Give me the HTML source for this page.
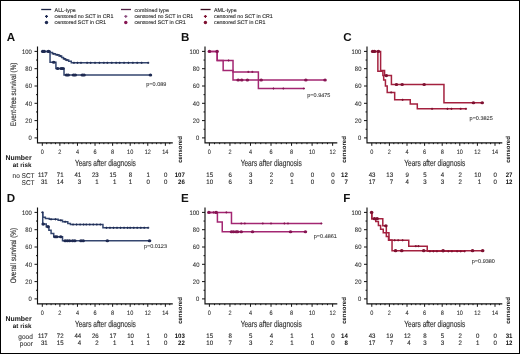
<!DOCTYPE html>
<html><head><meta charset="utf-8"><title>Survival curves</title>
<style>
html,body{margin:0;padding:0;background:#fff;}
body{width:520px;height:354px;overflow:hidden;position:relative;}
.frame{position:absolute;left:0;top:0;width:520px;height:354px;box-sizing:border-box;border:1px solid #000;}
svg{display:block;filter:blur(0.3px);font-family:"Liberation Sans", sans-serif;text-rendering:geometricPrecision;}
</style></head>
<body>
<svg width="520" height="354" viewBox="0 0 520 354">
<rect x="0" y="0" width="520" height="354" fill="#fff"/>
<path d="M41.2 9.5H51.2" stroke="#1f2747" stroke-width="1.3"/>
<path d="M45 16.4h3M46.5 14.9v3" stroke="#1e2a52" stroke-width="1.1"/>
<circle cx="46.5" cy="22.5" r="1.7" fill="#1e2a52"/>
<text x="54.6" y="11.5" font-size="5.3" text-anchor="start" font-weight="normal" fill="#2a2a2a" stroke="#2a2a2a" stroke-width="0.12" >ALL-type</text>
<text x="54.6" y="17.9" font-size="5.3" text-anchor="start" font-weight="normal" fill="#2a2a2a" stroke="#2a2a2a" stroke-width="0.12" >censored no SCT in CR1</text>
<text x="54.6" y="24.1" font-size="5.3" text-anchor="start" font-weight="normal" fill="#2a2a2a" stroke="#2a2a2a" stroke-width="0.12" >censored SCT in CR1</text>
<path d="M121 9.5H131" stroke="#552448" stroke-width="1.3"/>
<path d="M124.3 16.4h3M125.8 14.9v3" stroke="#8a4a7c" stroke-width="1.1"/>
<circle cx="125.8" cy="22.5" r="1.7" fill="#861452"/>
<text x="134.4" y="11.5" font-size="5.3" text-anchor="start" font-weight="normal" fill="#2a2a2a" stroke="#2a2a2a" stroke-width="0.12" >combined type</text>
<text x="134.4" y="17.9" font-size="5.3" text-anchor="start" font-weight="normal" fill="#2a2a2a" stroke="#2a2a2a" stroke-width="0.12" >censored no SCT in CR1</text>
<text x="134.4" y="24.1" font-size="5.3" text-anchor="start" font-weight="normal" fill="#2a2a2a" stroke="#2a2a2a" stroke-width="0.12" >censored SCT in CR1</text>
<path d="M200.6 9.5H210.6" stroke="#3c0e20" stroke-width="1.3"/>
<path d="M203.9 16.4h3M205.4 14.9v3" stroke="#7e1030" stroke-width="1.1"/>
<circle cx="205.4" cy="22.5" r="1.7" fill="#7e1030"/>
<text x="214" y="11.5" font-size="5.3" text-anchor="start" font-weight="normal" fill="#2a2a2a" stroke="#2a2a2a" stroke-width="0.12" >AML-type</text>
<text x="214" y="17.9" font-size="5.3" text-anchor="start" font-weight="normal" fill="#2a2a2a" stroke="#2a2a2a" stroke-width="0.12" >censored no SCT in CR1</text>
<text x="214" y="24.1" font-size="5.3" text-anchor="start" font-weight="normal" fill="#2a2a2a" stroke="#2a2a2a" stroke-width="0.12" >censored SCT in CR1</text>
<text x="6.8" y="40.7" font-size="11.6" text-anchor="start" font-weight="bold" fill="#111" >A</text>
<path d="M37.5 46.5 V142.8 H172.8" fill="none" stroke="#111" stroke-width="1.15"/>
<path d="M34.5 137.9H37.5M36 129.25H37.5M34.5 120.6H37.5M36 111.95H37.5M34.5 103.3H37.5M36 94.65H37.5M34.5 86H37.5M36 77.35H37.5M34.5 68.7H37.5M36 60.05H37.5M34.5 51.4H37.5M42.3 142.8V145.8M46.69 142.8V144.2M51.09 142.8V144.2M55.48 142.8V144.2M59.88 142.8V145.8M64.27 142.8V144.2M68.67 142.8V144.2M73.06 142.8V144.2M77.46 142.8V145.8M81.85 142.8V144.2M86.25 142.8V144.2M90.64 142.8V144.2M95.04 142.8V145.8M99.43 142.8V144.2M103.83 142.8V144.2M108.22 142.8V144.2M112.62 142.8V145.8M117.01 142.8V144.2M121.41 142.8V144.2M125.8 142.8V144.2M130.2 142.8V145.8M134.59 142.8V144.2M138.99 142.8V144.2M143.38 142.8V144.2M147.78 142.8V145.8M152.17 142.8V144.2M156.57 142.8V144.2M160.96 142.8V144.2M165.36 142.8V145.8M169.75 142.8V144.2" stroke="#111" stroke-width="1"/>
<text transform="translate(31.9 140.2) scale(0.92 1)" font-size="6.4" text-anchor="end" font-weight="normal" fill="#333" stroke="#333" stroke-width="0.1" >0</text>
<text transform="translate(31.9 122.9) scale(0.92 1)" font-size="6.4" text-anchor="end" font-weight="normal" fill="#333" stroke="#333" stroke-width="0.1" >20</text>
<text transform="translate(31.9 105.6) scale(0.92 1)" font-size="6.4" text-anchor="end" font-weight="normal" fill="#333" stroke="#333" stroke-width="0.1" >40</text>
<text transform="translate(31.9 88.3) scale(0.92 1)" font-size="6.4" text-anchor="end" font-weight="normal" fill="#333" stroke="#333" stroke-width="0.1" >60</text>
<text transform="translate(31.9 71) scale(0.92 1)" font-size="6.4" text-anchor="end" font-weight="normal" fill="#333" stroke="#333" stroke-width="0.1" >80</text>
<text transform="translate(31.9 53.7) scale(0.92 1)" font-size="6.4" text-anchor="end" font-weight="normal" fill="#333" stroke="#333" stroke-width="0.1" >100</text>
<text transform="translate(42.3 154.1) scale(0.88 1)" font-size="6.3" text-anchor="middle" font-weight="normal" fill="#333" stroke="#333" stroke-width="0.1" >0</text>
<text transform="translate(59.88 154.1) scale(0.88 1)" font-size="6.3" text-anchor="middle" font-weight="normal" fill="#333" stroke="#333" stroke-width="0.1" >2</text>
<text transform="translate(77.46 154.1) scale(0.88 1)" font-size="6.3" text-anchor="middle" font-weight="normal" fill="#333" stroke="#333" stroke-width="0.1" >4</text>
<text transform="translate(95.04 154.1) scale(0.88 1)" font-size="6.3" text-anchor="middle" font-weight="normal" fill="#333" stroke="#333" stroke-width="0.1" >6</text>
<text transform="translate(112.62 154.1) scale(0.88 1)" font-size="6.3" text-anchor="middle" font-weight="normal" fill="#333" stroke="#333" stroke-width="0.1" >8</text>
<text transform="translate(130.2 154.1) scale(0.88 1)" font-size="6.3" text-anchor="middle" font-weight="normal" fill="#333" stroke="#333" stroke-width="0.1" >10</text>
<text transform="translate(147.78 154.1) scale(0.88 1)" font-size="6.3" text-anchor="middle" font-weight="normal" fill="#333" stroke="#333" stroke-width="0.1" >12</text>
<text transform="translate(165.36 154.1) scale(0.88 1)" font-size="6.3" text-anchor="middle" font-weight="normal" fill="#333" stroke="#333" stroke-width="0.1" >14</text>
<text x="105.4" y="166.2" font-size="8.9" text-anchor="middle" font-weight="normal" fill="#333" stroke="#333" stroke-width="0.15" textLength="61" lengthAdjust="spacingAndGlyphs">Years after diagnosis</text>
<text transform="translate(182.1 149.5) rotate(-90)" font-size="6" font-weight="bold" fill="#111" text-anchor="middle">censored</text>
<path d="M42.3 51.4H50.21 V52.61H52.41 V53.74H55.48 V54.86H59 V55.98H61.64 V57.45H63.4 V58.84H65.59 V60.05H68.67 V61.35H71.31 V62.82H148.66" fill="none" stroke="#34466f" stroke-width="1.5"/>
<path d="M42.3 51.4H50.04 V62.21H55.92 V68.53H64.01 V74.93H150.42" fill="none" stroke="#34466f" stroke-width="1.5"/>
<path d="M47.79 51.4h2.2M48.89 50.3v2.2" stroke="#1e2a52" stroke-width="0.9"/>
<path d="M52.63 53.74h2.2M53.73 52.64v2.2" stroke="#1e2a52" stroke-width="0.9"/>
<path d="M56.14 54.86h2.2M57.24 53.76v2.2" stroke="#1e2a52" stroke-width="0.9"/>
<path d="M59.22 55.98h2.2M60.32 54.88v2.2" stroke="#1e2a52" stroke-width="0.9"/>
<path d="M63.17 58.84h2.2M64.27 57.74v2.2" stroke="#1e2a52" stroke-width="0.9"/>
<path d="M65.81 60.05h2.2M66.91 58.95v2.2" stroke="#1e2a52" stroke-width="0.9"/>
<path d="M72.84 62.82h2.2M73.94 61.72v2.2" stroke="#1e2a52" stroke-width="0.9"/>
<path d="M76.36 62.82h2.2M77.46 61.72v2.2" stroke="#1e2a52" stroke-width="0.9"/>
<path d="M79.88 62.82h2.2M80.98 61.72v2.2" stroke="#1e2a52" stroke-width="0.9"/>
<path d="M86.03 62.82h2.2M87.13 61.72v2.2" stroke="#1e2a52" stroke-width="0.9"/>
<path d="M89.55 62.82h2.2M90.64 61.72v2.2" stroke="#1e2a52" stroke-width="0.9"/>
<path d="M93.94 62.82h2.2M95.04 61.72v2.2" stroke="#1e2a52" stroke-width="0.9"/>
<path d="M98.33 62.82h2.2M99.43 61.72v2.2" stroke="#1e2a52" stroke-width="0.9"/>
<path d="M102.73 62.82h2.2M103.83 61.72v2.2" stroke="#1e2a52" stroke-width="0.9"/>
<path d="M106.25 62.82h2.2M107.35 61.72v2.2" stroke="#1e2a52" stroke-width="0.9"/>
<path d="M110.64 62.82h2.2M111.74 61.72v2.2" stroke="#1e2a52" stroke-width="0.9"/>
<path d="M115.04 62.82h2.2M116.14 61.72v2.2" stroke="#1e2a52" stroke-width="0.9"/>
<path d="M118.55 62.82h2.2M119.65 61.72v2.2" stroke="#1e2a52" stroke-width="0.9"/>
<path d="M122.95 62.82h2.2M124.05 61.72v2.2" stroke="#1e2a52" stroke-width="0.9"/>
<path d="M127.34 62.82h2.2M128.44 61.72v2.2" stroke="#1e2a52" stroke-width="0.9"/>
<path d="M131.74 62.82h2.2M132.84 61.72v2.2" stroke="#1e2a52" stroke-width="0.9"/>
<path d="M136.13 62.82h2.2M137.23 61.72v2.2" stroke="#1e2a52" stroke-width="0.9"/>
<path d="M140.53 62.82h2.2M141.63 61.72v2.2" stroke="#1e2a52" stroke-width="0.9"/>
<path d="M147.12 62.82h2.2M148.22 61.72v2.2" stroke="#1e2a52" stroke-width="0.9"/>
<ellipse cx="42.74" cy="51.4" rx="1.8" ry="1.55" fill="#1e2a52"/>
<ellipse cx="44.06" cy="51.4" rx="1.8" ry="1.55" fill="#1e2a52"/>
<ellipse cx="48.45" cy="51.4" rx="1.8" ry="1.55" fill="#1e2a52"/>
<ellipse cx="53.73" cy="62.21" rx="1.8" ry="1.55" fill="#1e2a52"/>
<ellipse cx="57.68" cy="68.53" rx="1.8" ry="1.55" fill="#1e2a52"/>
<ellipse cx="61.2" cy="68.53" rx="1.8" ry="1.55" fill="#1e2a52"/>
<ellipse cx="62.96" cy="68.53" rx="1.8" ry="1.55" fill="#1e2a52"/>
<ellipse cx="66.47" cy="74.93" rx="1.8" ry="1.55" fill="#1e2a52"/>
<ellipse cx="68.23" cy="74.93" rx="1.8" ry="1.55" fill="#1e2a52"/>
<ellipse cx="73.5" cy="74.93" rx="1.8" ry="1.55" fill="#1e2a52"/>
<ellipse cx="75.26" cy="74.93" rx="1.8" ry="1.55" fill="#1e2a52"/>
<ellipse cx="82.29" cy="74.93" rx="1.8" ry="1.55" fill="#1e2a52"/>
<ellipse cx="84.05" cy="74.93" rx="1.8" ry="1.55" fill="#1e2a52"/>
<ellipse cx="150.42" cy="74.93" rx="1.8" ry="1.55" fill="#1e2a52"/>
<text x="146.3" y="85.8" font-size="5.5" text-anchor="start" font-weight="normal" fill="#333" stroke="#333" stroke-width="0.08" >p=0.089</text>
<text transform="translate(47.67 177.2) scale(0.95 1)" font-size="6.4" text-anchor="end" font-weight="normal" fill="#2a2a2a" stroke="#2a2a2a" stroke-width="0.12" >117</text>
<text transform="translate(47.67 184.4) scale(0.95 1)" font-size="6.4" text-anchor="end" font-weight="normal" fill="#2a2a2a" stroke="#2a2a2a" stroke-width="0.12" >31</text>
<text transform="translate(63.56 177.2) scale(0.95 1)" font-size="6.4" text-anchor="end" font-weight="normal" fill="#2a2a2a" stroke="#2a2a2a" stroke-width="0.12" >71</text>
<text transform="translate(63.56 184.4) scale(0.95 1)" font-size="6.4" text-anchor="end" font-weight="normal" fill="#2a2a2a" stroke="#2a2a2a" stroke-width="0.12" >14</text>
<text transform="translate(81.14 177.2) scale(0.95 1)" font-size="6.4" text-anchor="end" font-weight="normal" fill="#2a2a2a" stroke="#2a2a2a" stroke-width="0.12" >41</text>
<text transform="translate(81.14 184.4) scale(0.95 1)" font-size="6.4" text-anchor="end" font-weight="normal" fill="#2a2a2a" stroke="#2a2a2a" stroke-width="0.12" >3</text>
<text transform="translate(98.72 177.2) scale(0.95 1)" font-size="6.4" text-anchor="end" font-weight="normal" fill="#2a2a2a" stroke="#2a2a2a" stroke-width="0.12" >23</text>
<text transform="translate(98.72 184.4) scale(0.95 1)" font-size="6.4" text-anchor="end" font-weight="normal" fill="#2a2a2a" stroke="#2a2a2a" stroke-width="0.12" >1</text>
<text transform="translate(116.3 177.2) scale(0.95 1)" font-size="6.4" text-anchor="end" font-weight="normal" fill="#2a2a2a" stroke="#2a2a2a" stroke-width="0.12" >15</text>
<text transform="translate(116.3 184.4) scale(0.95 1)" font-size="6.4" text-anchor="end" font-weight="normal" fill="#2a2a2a" stroke="#2a2a2a" stroke-width="0.12" >1</text>
<text transform="translate(132.19 177.2) scale(0.95 1)" font-size="6.4" text-anchor="end" font-weight="normal" fill="#2a2a2a" stroke="#2a2a2a" stroke-width="0.12" >8</text>
<text transform="translate(132.19 184.4) scale(0.95 1)" font-size="6.4" text-anchor="end" font-weight="normal" fill="#2a2a2a" stroke="#2a2a2a" stroke-width="0.12" >1</text>
<text transform="translate(149.77 177.2) scale(0.95 1)" font-size="6.4" text-anchor="end" font-weight="normal" fill="#2a2a2a" stroke="#2a2a2a" stroke-width="0.12" >1</text>
<text transform="translate(149.77 184.4) scale(0.95 1)" font-size="6.4" text-anchor="end" font-weight="normal" fill="#2a2a2a" stroke="#2a2a2a" stroke-width="0.12" >0</text>
<text transform="translate(167.35 177.2) scale(0.95 1)" font-size="6.4" text-anchor="end" font-weight="normal" fill="#2a2a2a" stroke="#2a2a2a" stroke-width="0.12" >0</text>
<text transform="translate(167.35 184.4) scale(0.95 1)" font-size="6.4" text-anchor="end" font-weight="normal" fill="#2a2a2a" stroke="#2a2a2a" stroke-width="0.12" >0</text>
<text transform="translate(184.8 177.2) scale(0.95 1)" font-size="6.4" text-anchor="end" font-weight="bold" fill="#111" >107</text>
<text transform="translate(184.8 184.4) scale(0.95 1)" font-size="6.4" text-anchor="end" font-weight="bold" fill="#111" >26</text>
<text x="31.6" y="159.8" font-size="6.9" text-anchor="end" font-weight="bold" fill="#111" >Number</text>
<text x="31.4" y="167.1" font-size="6.3" text-anchor="end" font-weight="bold" fill="#111" >at risk</text>
<text transform="translate(34.6 177.5) scale(0.93 1)" font-size="7" text-anchor="end" font-weight="normal" fill="#333" stroke="#333" stroke-width="0.1" >no SCT</text>
<text transform="translate(34.6 184.6) scale(0.93 1)" font-size="7" text-anchor="end" font-weight="normal" fill="#333" stroke="#333" stroke-width="0.1" >SCT</text>
<text x="181" y="40.7" font-size="11.6" text-anchor="start" font-weight="bold" fill="#111" >B</text>
<path d="M205 46.5 V142.8 H337.3" fill="none" stroke="#111" stroke-width="1.15"/>
<path d="M202 137.9H205M203.5 129.25H205M202 120.6H205M203.5 111.95H205M202 103.3H205M203.5 94.65H205M202 86H205M203.5 77.35H205M202 68.7H205M203.5 60.05H205M202 51.4H205M209.4 142.8V145.8M214.53 142.8V144.2M219.67 142.8V144.2M224.81 142.8V144.2M229.94 142.8V145.8M235.07 142.8V144.2M240.21 142.8V144.2M245.34 142.8V144.2M250.48 142.8V145.8M255.62 142.8V144.2M260.75 142.8V144.2M265.88 142.8V144.2M271.02 142.8V145.8M276.15 142.8V144.2M281.29 142.8V144.2M286.43 142.8V144.2M291.56 142.8V145.8M296.69 142.8V144.2M301.83 142.8V144.2M306.97 142.8V144.2M312.1 142.8V145.8M317.24 142.8V144.2M322.37 142.8V144.2M327.5 142.8V144.2M332.64 142.8V145.8" stroke="#111" stroke-width="1"/>
<text transform="translate(199.4 140.2) scale(0.92 1)" font-size="6.4" text-anchor="end" font-weight="normal" fill="#333" stroke="#333" stroke-width="0.1" >0</text>
<text transform="translate(199.4 122.9) scale(0.92 1)" font-size="6.4" text-anchor="end" font-weight="normal" fill="#333" stroke="#333" stroke-width="0.1" >20</text>
<text transform="translate(199.4 105.6) scale(0.92 1)" font-size="6.4" text-anchor="end" font-weight="normal" fill="#333" stroke="#333" stroke-width="0.1" >40</text>
<text transform="translate(199.4 88.3) scale(0.92 1)" font-size="6.4" text-anchor="end" font-weight="normal" fill="#333" stroke="#333" stroke-width="0.1" >60</text>
<text transform="translate(199.4 71) scale(0.92 1)" font-size="6.4" text-anchor="end" font-weight="normal" fill="#333" stroke="#333" stroke-width="0.1" >80</text>
<text transform="translate(199.4 53.7) scale(0.92 1)" font-size="6.4" text-anchor="end" font-weight="normal" fill="#333" stroke="#333" stroke-width="0.1" >100</text>
<text transform="translate(209.4 154.1) scale(0.88 1)" font-size="6.3" text-anchor="middle" font-weight="normal" fill="#333" stroke="#333" stroke-width="0.1" >0</text>
<text transform="translate(229.94 154.1) scale(0.88 1)" font-size="6.3" text-anchor="middle" font-weight="normal" fill="#333" stroke="#333" stroke-width="0.1" >2</text>
<text transform="translate(250.48 154.1) scale(0.88 1)" font-size="6.3" text-anchor="middle" font-weight="normal" fill="#333" stroke="#333" stroke-width="0.1" >4</text>
<text transform="translate(271.02 154.1) scale(0.88 1)" font-size="6.3" text-anchor="middle" font-weight="normal" fill="#333" stroke="#333" stroke-width="0.1" >6</text>
<text transform="translate(291.56 154.1) scale(0.88 1)" font-size="6.3" text-anchor="middle" font-weight="normal" fill="#333" stroke="#333" stroke-width="0.1" >8</text>
<text transform="translate(312.1 154.1) scale(0.88 1)" font-size="6.3" text-anchor="middle" font-weight="normal" fill="#333" stroke="#333" stroke-width="0.1" >10</text>
<text transform="translate(332.64 154.1) scale(0.88 1)" font-size="6.3" text-anchor="middle" font-weight="normal" fill="#333" stroke="#333" stroke-width="0.1" >12</text>
<text x="271.2" y="166.2" font-size="8.9" text-anchor="middle" font-weight="normal" fill="#333" stroke="#333" stroke-width="0.15" textLength="61" lengthAdjust="spacingAndGlyphs">Years after diagnosis</text>
<text transform="translate(345.6 149.5) rotate(-90)" font-size="6" font-weight="bold" fill="#111" text-anchor="middle">censored</text>
<path d="M209.4 51.4H217.21 V60.48H223.16 V70.43H233.02 V71.9H258.39 V88.51H303.88" fill="none" stroke="#a32672" stroke-width="1.5"/>
<path d="M209.4 51.4H217.21 V60.48H233.02 V80.03H325.04" fill="none" stroke="#a32672" stroke-width="1.5"/>
<path d="M247.22 71.9h2.2M248.32 70.8v2.2" stroke="#861452" stroke-width="0.9"/>
<path d="M251.23 71.9h2.2M252.33 70.8v2.2" stroke="#861452" stroke-width="0.9"/>
<path d="M272.38 88.51h2.2M273.48 87.41v2.2" stroke="#861452" stroke-width="0.9"/>
<path d="M282.24 88.51h2.2M283.34 87.41v2.2" stroke="#861452" stroke-width="0.9"/>
<path d="M302.78 88.51h2.2M303.88 87.41v2.2" stroke="#861452" stroke-width="0.9"/>
<path d="M227.5 60.48h2.2M228.6 59.38v2.2" stroke="#861452" stroke-width="0.9"/>
<ellipse cx="209.4" cy="51.4" rx="1.8" ry="1.55" fill="#861452"/>
<ellipse cx="217.1" cy="51.4" rx="1.8" ry="1.55" fill="#861452"/>
<ellipse cx="238.16" cy="80.03" rx="1.8" ry="1.55" fill="#861452"/>
<ellipse cx="241.75" cy="80.03" rx="1.8" ry="1.55" fill="#861452"/>
<ellipse cx="247.4" cy="80.03" rx="1.8" ry="1.55" fill="#861452"/>
<ellipse cx="261.16" cy="80.03" rx="1.8" ry="1.55" fill="#861452"/>
<ellipse cx="305.84" cy="80.03" rx="1.8" ry="1.55" fill="#861452"/>
<ellipse cx="325.04" cy="80.03" rx="1.8" ry="1.55" fill="#861452"/>
<text x="307.3" y="97" font-size="5.5" text-anchor="start" font-weight="normal" fill="#333" stroke="#333" stroke-width="0.08" >p=0.9475</text>
<text transform="translate(213.08 177.2) scale(0.95 1)" font-size="6.4" text-anchor="end" font-weight="normal" fill="#2a2a2a" stroke="#2a2a2a" stroke-width="0.12" >15</text>
<text transform="translate(213.08 184.4) scale(0.95 1)" font-size="6.4" text-anchor="end" font-weight="normal" fill="#2a2a2a" stroke="#2a2a2a" stroke-width="0.12" >10</text>
<text transform="translate(231.93 177.2) scale(0.95 1)" font-size="6.4" text-anchor="end" font-weight="normal" fill="#2a2a2a" stroke="#2a2a2a" stroke-width="0.12" >6</text>
<text transform="translate(231.93 184.4) scale(0.95 1)" font-size="6.4" text-anchor="end" font-weight="normal" fill="#2a2a2a" stroke="#2a2a2a" stroke-width="0.12" >6</text>
<text transform="translate(252.47 177.2) scale(0.95 1)" font-size="6.4" text-anchor="end" font-weight="normal" fill="#2a2a2a" stroke="#2a2a2a" stroke-width="0.12" >3</text>
<text transform="translate(252.47 184.4) scale(0.95 1)" font-size="6.4" text-anchor="end" font-weight="normal" fill="#2a2a2a" stroke="#2a2a2a" stroke-width="0.12" >3</text>
<text transform="translate(273.01 177.2) scale(0.95 1)" font-size="6.4" text-anchor="end" font-weight="normal" fill="#2a2a2a" stroke="#2a2a2a" stroke-width="0.12" >2</text>
<text transform="translate(273.01 184.4) scale(0.95 1)" font-size="6.4" text-anchor="end" font-weight="normal" fill="#2a2a2a" stroke="#2a2a2a" stroke-width="0.12" >2</text>
<text transform="translate(293.55 177.2) scale(0.95 1)" font-size="6.4" text-anchor="end" font-weight="normal" fill="#2a2a2a" stroke="#2a2a2a" stroke-width="0.12" >0</text>
<text transform="translate(293.55 184.4) scale(0.95 1)" font-size="6.4" text-anchor="end" font-weight="normal" fill="#2a2a2a" stroke="#2a2a2a" stroke-width="0.12" >1</text>
<text transform="translate(314.09 177.2) scale(0.95 1)" font-size="6.4" text-anchor="end" font-weight="normal" fill="#2a2a2a" stroke="#2a2a2a" stroke-width="0.12" >0</text>
<text transform="translate(314.09 184.4) scale(0.95 1)" font-size="6.4" text-anchor="end" font-weight="normal" fill="#2a2a2a" stroke="#2a2a2a" stroke-width="0.12" >0</text>
<text transform="translate(334.63 177.2) scale(0.95 1)" font-size="6.4" text-anchor="end" font-weight="normal" fill="#2a2a2a" stroke="#2a2a2a" stroke-width="0.12" >0</text>
<text transform="translate(334.63 184.4) scale(0.95 1)" font-size="6.4" text-anchor="end" font-weight="normal" fill="#2a2a2a" stroke="#2a2a2a" stroke-width="0.12" >0</text>
<text transform="translate(347.8 177.2) scale(0.95 1)" font-size="6.4" text-anchor="end" font-weight="bold" fill="#111" >12</text>
<text transform="translate(347.8 184.4) scale(0.95 1)" font-size="6.4" text-anchor="end" font-weight="bold" fill="#111" >7</text>
<text x="343.2" y="40.7" font-size="11.6" text-anchor="start" font-weight="bold" fill="#111" >C</text>
<path d="M367 46.5 V142.8 H502.3" fill="none" stroke="#111" stroke-width="1.15"/>
<path d="M364 137.9H367M365.5 129.25H367M364 120.6H367M365.5 111.95H367M364 103.3H367M365.5 94.65H367M364 86H367M365.5 77.35H367M364 68.7H367M365.5 60.05H367M364 51.4H367M371.8 142.8V145.8M376.2 142.8V144.2M380.6 142.8V144.2M385 142.8V144.2M389.4 142.8V145.8M393.8 142.8V144.2M398.2 142.8V144.2M402.6 142.8V144.2M407 142.8V145.8M411.4 142.8V144.2M415.8 142.8V144.2M420.2 142.8V144.2M424.6 142.8V145.8M429 142.8V144.2M433.4 142.8V144.2M437.8 142.8V144.2M442.2 142.8V145.8M446.6 142.8V144.2M451 142.8V144.2M455.4 142.8V144.2M459.8 142.8V145.8M464.2 142.8V144.2M468.6 142.8V144.2M473 142.8V144.2M477.4 142.8V145.8M481.8 142.8V144.2M486.2 142.8V144.2M490.6 142.8V144.2M495 142.8V145.8M499.4 142.8V144.2" stroke="#111" stroke-width="1"/>
<text transform="translate(361.4 140.2) scale(0.92 1)" font-size="6.4" text-anchor="end" font-weight="normal" fill="#333" stroke="#333" stroke-width="0.1" >0</text>
<text transform="translate(361.4 122.9) scale(0.92 1)" font-size="6.4" text-anchor="end" font-weight="normal" fill="#333" stroke="#333" stroke-width="0.1" >20</text>
<text transform="translate(361.4 105.6) scale(0.92 1)" font-size="6.4" text-anchor="end" font-weight="normal" fill="#333" stroke="#333" stroke-width="0.1" >40</text>
<text transform="translate(361.4 88.3) scale(0.92 1)" font-size="6.4" text-anchor="end" font-weight="normal" fill="#333" stroke="#333" stroke-width="0.1" >60</text>
<text transform="translate(361.4 71) scale(0.92 1)" font-size="6.4" text-anchor="end" font-weight="normal" fill="#333" stroke="#333" stroke-width="0.1" >80</text>
<text transform="translate(361.4 53.7) scale(0.92 1)" font-size="6.4" text-anchor="end" font-weight="normal" fill="#333" stroke="#333" stroke-width="0.1" >100</text>
<text transform="translate(371.8 154.1) scale(0.88 1)" font-size="6.3" text-anchor="middle" font-weight="normal" fill="#333" stroke="#333" stroke-width="0.1" >0</text>
<text transform="translate(389.4 154.1) scale(0.88 1)" font-size="6.3" text-anchor="middle" font-weight="normal" fill="#333" stroke="#333" stroke-width="0.1" >2</text>
<text transform="translate(407 154.1) scale(0.88 1)" font-size="6.3" text-anchor="middle" font-weight="normal" fill="#333" stroke="#333" stroke-width="0.1" >4</text>
<text transform="translate(424.6 154.1) scale(0.88 1)" font-size="6.3" text-anchor="middle" font-weight="normal" fill="#333" stroke="#333" stroke-width="0.1" >6</text>
<text transform="translate(442.2 154.1) scale(0.88 1)" font-size="6.3" text-anchor="middle" font-weight="normal" fill="#333" stroke="#333" stroke-width="0.1" >8</text>
<text transform="translate(459.8 154.1) scale(0.88 1)" font-size="6.3" text-anchor="middle" font-weight="normal" fill="#333" stroke="#333" stroke-width="0.1" >10</text>
<text transform="translate(477.4 154.1) scale(0.88 1)" font-size="6.3" text-anchor="middle" font-weight="normal" fill="#333" stroke="#333" stroke-width="0.1" >12</text>
<text transform="translate(495 154.1) scale(0.88 1)" font-size="6.3" text-anchor="middle" font-weight="normal" fill="#333" stroke="#333" stroke-width="0.1" >14</text>
<text x="434.8" y="166.2" font-size="8.9" text-anchor="middle" font-weight="normal" fill="#333" stroke="#333" stroke-width="0.15" textLength="61" lengthAdjust="spacingAndGlyphs">Years after diagnosis</text>
<text transform="translate(510.3 149.5) rotate(-90)" font-size="6" font-weight="bold" fill="#111" text-anchor="middle">censored</text>
<path d="M371.8 51.4H377.87 V71.3H382.89 V75.62H383.68 V79.94H385.44 V86H387.2 V92.4H394.68 V99.84H410.26 V103.99H417.3 V108.84H466.4" fill="none" stroke="#a4213f" stroke-width="1.5"/>
<path d="M371.8 51.4H380.6 V70.43H384.56 V75.62H391.42 V84.44H443.96 V102.78H482.24" fill="none" stroke="#a4213f" stroke-width="1.5"/>
<path d="M390.06 92.4h2.2M391.16 91.3v2.2" stroke="#7e1030" stroke-width="0.9"/>
<path d="M401.5 99.84h2.2M402.6 98.74v2.2" stroke="#7e1030" stroke-width="0.9"/>
<path d="M430.98 108.84h2.2M432.08 107.74v2.2" stroke="#7e1030" stroke-width="0.9"/>
<path d="M446.38 108.84h2.2M447.48 107.74v2.2" stroke="#7e1030" stroke-width="0.9"/>
<path d="M450.34 108.84h2.2M451.44 107.74v2.2" stroke="#7e1030" stroke-width="0.9"/>
<path d="M459.58 108.84h2.2M460.68 107.74v2.2" stroke="#7e1030" stroke-width="0.9"/>
<path d="M464.86 108.84h2.2M465.96 107.74v2.2" stroke="#7e1030" stroke-width="0.9"/>
<ellipse cx="372.68" cy="51.4" rx="1.8" ry="1.55" fill="#7e1030"/>
<ellipse cx="374.44" cy="51.4" rx="1.8" ry="1.55" fill="#7e1030"/>
<ellipse cx="378.4" cy="51.4" rx="1.8" ry="1.55" fill="#7e1030"/>
<ellipse cx="386.32" cy="75.62" rx="1.8" ry="1.55" fill="#7e1030"/>
<ellipse cx="396.44" cy="84.44" rx="1.8" ry="1.55" fill="#7e1030"/>
<ellipse cx="402.16" cy="84.44" rx="1.8" ry="1.55" fill="#7e1030"/>
<ellipse cx="424.16" cy="84.44" rx="1.8" ry="1.55" fill="#7e1030"/>
<ellipse cx="473.44" cy="102.78" rx="1.8" ry="1.55" fill="#7e1030"/>
<ellipse cx="482.24" cy="102.78" rx="1.8" ry="1.55" fill="#7e1030"/>
<text x="469.6" y="120.1" font-size="5.5" text-anchor="start" font-weight="normal" fill="#333" stroke="#333" stroke-width="0.08" >p=0.3825</text>
<text transform="translate(375.48 177.2) scale(0.95 1)" font-size="6.4" text-anchor="end" font-weight="normal" fill="#2a2a2a" stroke="#2a2a2a" stroke-width="0.12" >43</text>
<text transform="translate(375.48 184.4) scale(0.95 1)" font-size="6.4" text-anchor="end" font-weight="normal" fill="#2a2a2a" stroke="#2a2a2a" stroke-width="0.12" >17</text>
<text transform="translate(393.08 177.2) scale(0.95 1)" font-size="6.4" text-anchor="end" font-weight="normal" fill="#2a2a2a" stroke="#2a2a2a" stroke-width="0.12" >13</text>
<text transform="translate(393.08 184.4) scale(0.95 1)" font-size="6.4" text-anchor="end" font-weight="normal" fill="#2a2a2a" stroke="#2a2a2a" stroke-width="0.12" >7</text>
<text transform="translate(408.99 177.2) scale(0.95 1)" font-size="6.4" text-anchor="end" font-weight="normal" fill="#2a2a2a" stroke="#2a2a2a" stroke-width="0.12" >9</text>
<text transform="translate(408.99 184.4) scale(0.95 1)" font-size="6.4" text-anchor="end" font-weight="normal" fill="#2a2a2a" stroke="#2a2a2a" stroke-width="0.12" >4</text>
<text transform="translate(426.59 177.2) scale(0.95 1)" font-size="6.4" text-anchor="end" font-weight="normal" fill="#2a2a2a" stroke="#2a2a2a" stroke-width="0.12" >5</text>
<text transform="translate(426.59 184.4) scale(0.95 1)" font-size="6.4" text-anchor="end" font-weight="normal" fill="#2a2a2a" stroke="#2a2a2a" stroke-width="0.12" >3</text>
<text transform="translate(444.19 177.2) scale(0.95 1)" font-size="6.4" text-anchor="end" font-weight="normal" fill="#2a2a2a" stroke="#2a2a2a" stroke-width="0.12" >4</text>
<text transform="translate(444.19 184.4) scale(0.95 1)" font-size="6.4" text-anchor="end" font-weight="normal" fill="#2a2a2a" stroke="#2a2a2a" stroke-width="0.12" >3</text>
<text transform="translate(461.79 177.2) scale(0.95 1)" font-size="6.4" text-anchor="end" font-weight="normal" fill="#2a2a2a" stroke="#2a2a2a" stroke-width="0.12" >2</text>
<text transform="translate(461.79 184.4) scale(0.95 1)" font-size="6.4" text-anchor="end" font-weight="normal" fill="#2a2a2a" stroke="#2a2a2a" stroke-width="0.12" >2</text>
<text transform="translate(481.08 177.2) scale(0.95 1)" font-size="6.4" text-anchor="end" font-weight="normal" fill="#2a2a2a" stroke="#2a2a2a" stroke-width="0.12" >10</text>
<text transform="translate(481.08 184.4) scale(0.95 1)" font-size="6.4" text-anchor="end" font-weight="normal" fill="#2a2a2a" stroke="#2a2a2a" stroke-width="0.12" >1</text>
<text transform="translate(496.99 177.2) scale(0.95 1)" font-size="6.4" text-anchor="end" font-weight="normal" fill="#2a2a2a" stroke="#2a2a2a" stroke-width="0.12" >0</text>
<text transform="translate(496.99 184.4) scale(0.95 1)" font-size="6.4" text-anchor="end" font-weight="normal" fill="#2a2a2a" stroke="#2a2a2a" stroke-width="0.12" >0</text>
<text transform="translate(512.4 177.2) scale(0.95 1)" font-size="6.4" text-anchor="end" font-weight="bold" fill="#111" >27</text>
<text transform="translate(512.4 184.4) scale(0.95 1)" font-size="6.4" text-anchor="end" font-weight="bold" fill="#111" >12</text>
<text x="6.8" y="201.7" font-size="11.6" text-anchor="start" font-weight="bold" fill="#111" >D</text>
<path d="M37.5 207.5 V303.8 H172.8" fill="none" stroke="#111" stroke-width="1.15"/>
<path d="M34.5 298.9H37.5M36 290.25H37.5M34.5 281.6H37.5M36 272.95H37.5M34.5 264.3H37.5M36 255.65H37.5M34.5 247H37.5M36 238.35H37.5M34.5 229.7H37.5M36 221.05H37.5M34.5 212.4H37.5M42.3 303.8V306.8M46.69 303.8V305.2M51.09 303.8V305.2M55.48 303.8V305.2M59.88 303.8V306.8M64.27 303.8V305.2M68.67 303.8V305.2M73.06 303.8V305.2M77.46 303.8V306.8M81.85 303.8V305.2M86.25 303.8V305.2M90.64 303.8V305.2M95.04 303.8V306.8M99.43 303.8V305.2M103.83 303.8V305.2M108.22 303.8V305.2M112.62 303.8V306.8M117.01 303.8V305.2M121.41 303.8V305.2M125.8 303.8V305.2M130.2 303.8V306.8M134.59 303.8V305.2M138.99 303.8V305.2M143.38 303.8V305.2M147.78 303.8V306.8M152.17 303.8V305.2M156.57 303.8V305.2M160.96 303.8V305.2M165.36 303.8V306.8M169.75 303.8V305.2" stroke="#111" stroke-width="1"/>
<text transform="translate(31.9 301.2) scale(0.92 1)" font-size="6.4" text-anchor="end" font-weight="normal" fill="#333" stroke="#333" stroke-width="0.1" >0</text>
<text transform="translate(31.9 283.9) scale(0.92 1)" font-size="6.4" text-anchor="end" font-weight="normal" fill="#333" stroke="#333" stroke-width="0.1" >20</text>
<text transform="translate(31.9 266.6) scale(0.92 1)" font-size="6.4" text-anchor="end" font-weight="normal" fill="#333" stroke="#333" stroke-width="0.1" >40</text>
<text transform="translate(31.9 249.3) scale(0.92 1)" font-size="6.4" text-anchor="end" font-weight="normal" fill="#333" stroke="#333" stroke-width="0.1" >60</text>
<text transform="translate(31.9 232) scale(0.92 1)" font-size="6.4" text-anchor="end" font-weight="normal" fill="#333" stroke="#333" stroke-width="0.1" >80</text>
<text transform="translate(31.9 214.7) scale(0.92 1)" font-size="6.4" text-anchor="end" font-weight="normal" fill="#333" stroke="#333" stroke-width="0.1" >100</text>
<text transform="translate(42.3 315.1) scale(0.88 1)" font-size="6.3" text-anchor="middle" font-weight="normal" fill="#333" stroke="#333" stroke-width="0.1" >0</text>
<text transform="translate(59.88 315.1) scale(0.88 1)" font-size="6.3" text-anchor="middle" font-weight="normal" fill="#333" stroke="#333" stroke-width="0.1" >2</text>
<text transform="translate(77.46 315.1) scale(0.88 1)" font-size="6.3" text-anchor="middle" font-weight="normal" fill="#333" stroke="#333" stroke-width="0.1" >4</text>
<text transform="translate(95.04 315.1) scale(0.88 1)" font-size="6.3" text-anchor="middle" font-weight="normal" fill="#333" stroke="#333" stroke-width="0.1" >6</text>
<text transform="translate(112.62 315.1) scale(0.88 1)" font-size="6.3" text-anchor="middle" font-weight="normal" fill="#333" stroke="#333" stroke-width="0.1" >8</text>
<text transform="translate(130.2 315.1) scale(0.88 1)" font-size="6.3" text-anchor="middle" font-weight="normal" fill="#333" stroke="#333" stroke-width="0.1" >10</text>
<text transform="translate(147.78 315.1) scale(0.88 1)" font-size="6.3" text-anchor="middle" font-weight="normal" fill="#333" stroke="#333" stroke-width="0.1" >12</text>
<text transform="translate(165.36 315.1) scale(0.88 1)" font-size="6.3" text-anchor="middle" font-weight="normal" fill="#333" stroke="#333" stroke-width="0.1" >14</text>
<text x="105.4" y="327.2" font-size="8.9" text-anchor="middle" font-weight="normal" fill="#333" stroke="#333" stroke-width="0.15" textLength="61" lengthAdjust="spacingAndGlyphs">Years after diagnosis</text>
<text transform="translate(182.1 310.5) rotate(-90)" font-size="6" font-weight="bold" fill="#111" text-anchor="middle">censored</text>
<path d="M42.3 212.4H42.74 V217.16H45.38 V218.46H49.33 V219.32H58.12 V220.36H62.52 V221.74H67.79 V223.47H70.43 V224.51H102.95 V227.8H148.22" fill="none" stroke="#34466f" stroke-width="1.5"/>
<path d="M42.3 212.4H42.74 V224.08H46.26 V226.67H48.89 V230.13H51.09 V233.59H53.73 V236.79H62.52 V240.77H149.54" fill="none" stroke="#34466f" stroke-width="1.5"/>
<path d="M41.2 212.4h2.2M42.3 211.3v2.2" stroke="#1e2a52" stroke-width="0.9"/>
<path d="M49.99 219.32h2.2M51.09 218.22v2.2" stroke="#1e2a52" stroke-width="0.9"/>
<path d="M54.38 219.32h2.2M55.48 218.22v2.2" stroke="#1e2a52" stroke-width="0.9"/>
<path d="M59.66 220.36h2.2M60.76 219.26v2.2" stroke="#1e2a52" stroke-width="0.9"/>
<path d="M64.05 221.74h2.2M65.15 220.64v2.2" stroke="#1e2a52" stroke-width="0.9"/>
<path d="M71.97 224.51h2.2M73.06 223.41v2.2" stroke="#1e2a52" stroke-width="0.9"/>
<path d="M75.48 224.51h2.2M76.58 223.41v2.2" stroke="#1e2a52" stroke-width="0.9"/>
<path d="M79 224.51h2.2M80.1 223.41v2.2" stroke="#1e2a52" stroke-width="0.9"/>
<path d="M82.51 224.51h2.2M83.61 223.41v2.2" stroke="#1e2a52" stroke-width="0.9"/>
<path d="M85.15 224.51h2.2M86.25 223.41v2.2" stroke="#1e2a52" stroke-width="0.9"/>
<path d="M88.67 224.51h2.2M89.77 223.41v2.2" stroke="#1e2a52" stroke-width="0.9"/>
<path d="M92.18 224.51h2.2M93.28 223.41v2.2" stroke="#1e2a52" stroke-width="0.9"/>
<path d="M95.7 224.51h2.2M96.8 223.41v2.2" stroke="#1e2a52" stroke-width="0.9"/>
<path d="M99.21 224.51h2.2M100.31 223.41v2.2" stroke="#1e2a52" stroke-width="0.9"/>
<path d="M105.37 227.8h2.2M106.47 226.7v2.2" stroke="#1e2a52" stroke-width="0.9"/>
<path d="M108.88 227.8h2.2M109.98 226.7v2.2" stroke="#1e2a52" stroke-width="0.9"/>
<path d="M112.4 227.8h2.2M113.5 226.7v2.2" stroke="#1e2a52" stroke-width="0.9"/>
<path d="M115.91 227.8h2.2M117.01 226.7v2.2" stroke="#1e2a52" stroke-width="0.9"/>
<path d="M119.43 227.8h2.2M120.53 226.7v2.2" stroke="#1e2a52" stroke-width="0.9"/>
<path d="M122.95 227.8h2.2M124.05 226.7v2.2" stroke="#1e2a52" stroke-width="0.9"/>
<path d="M126.46 227.8h2.2M127.56 226.7v2.2" stroke="#1e2a52" stroke-width="0.9"/>
<path d="M129.1 227.8h2.2M130.2 226.7v2.2" stroke="#1e2a52" stroke-width="0.9"/>
<path d="M132.62 227.8h2.2M133.72 226.7v2.2" stroke="#1e2a52" stroke-width="0.9"/>
<path d="M136.13 227.8h2.2M137.23 226.7v2.2" stroke="#1e2a52" stroke-width="0.9"/>
<path d="M139.65 227.8h2.2M140.75 226.7v2.2" stroke="#1e2a52" stroke-width="0.9"/>
<path d="M143.16 227.8h2.2M144.26 226.7v2.2" stroke="#1e2a52" stroke-width="0.9"/>
<path d="M147.12 227.8h2.2M148.22 226.7v2.2" stroke="#1e2a52" stroke-width="0.9"/>
<ellipse cx="43.18" cy="224.08" rx="1.8" ry="1.55" fill="#1e2a52"/>
<ellipse cx="48.01" cy="226.67" rx="1.8" ry="1.55" fill="#1e2a52"/>
<ellipse cx="55.05" cy="236.79" rx="1.8" ry="1.55" fill="#1e2a52"/>
<ellipse cx="56.8" cy="236.79" rx="1.8" ry="1.55" fill="#1e2a52"/>
<ellipse cx="60.76" cy="236.79" rx="1.8" ry="1.55" fill="#1e2a52"/>
<ellipse cx="65.15" cy="240.77" rx="1.8" ry="1.55" fill="#1e2a52"/>
<ellipse cx="67.35" cy="240.77" rx="1.8" ry="1.55" fill="#1e2a52"/>
<ellipse cx="69.55" cy="240.77" rx="1.8" ry="1.55" fill="#1e2a52"/>
<ellipse cx="72.63" cy="240.77" rx="1.8" ry="1.55" fill="#1e2a52"/>
<ellipse cx="74.82" cy="240.77" rx="1.8" ry="1.55" fill="#1e2a52"/>
<ellipse cx="80.98" cy="240.77" rx="1.8" ry="1.55" fill="#1e2a52"/>
<ellipse cx="83.17" cy="240.77" rx="1.8" ry="1.55" fill="#1e2a52"/>
<ellipse cx="107.35" cy="240.77" rx="1.8" ry="1.55" fill="#1e2a52"/>
<ellipse cx="149.54" cy="240.77" rx="1.8" ry="1.55" fill="#1e2a52"/>
<text x="143.9" y="248.2" font-size="5.5" text-anchor="start" font-weight="normal" fill="#333" stroke="#333" stroke-width="0.08" >p=0.0123</text>
<text transform="translate(47.67 338.2) scale(0.95 1)" font-size="6.4" text-anchor="end" font-weight="normal" fill="#2a2a2a" stroke="#2a2a2a" stroke-width="0.12" >117</text>
<text transform="translate(47.67 345.4) scale(0.95 1)" font-size="6.4" text-anchor="end" font-weight="normal" fill="#2a2a2a" stroke="#2a2a2a" stroke-width="0.12" >31</text>
<text transform="translate(63.56 338.2) scale(0.95 1)" font-size="6.4" text-anchor="end" font-weight="normal" fill="#2a2a2a" stroke="#2a2a2a" stroke-width="0.12" >72</text>
<text transform="translate(63.56 345.4) scale(0.95 1)" font-size="6.4" text-anchor="end" font-weight="normal" fill="#2a2a2a" stroke="#2a2a2a" stroke-width="0.12" >15</text>
<text transform="translate(81.14 338.2) scale(0.95 1)" font-size="6.4" text-anchor="end" font-weight="normal" fill="#2a2a2a" stroke="#2a2a2a" stroke-width="0.12" >44</text>
<text transform="translate(81.14 345.4) scale(0.95 1)" font-size="6.4" text-anchor="end" font-weight="normal" fill="#2a2a2a" stroke="#2a2a2a" stroke-width="0.12" >4</text>
<text transform="translate(98.72 338.2) scale(0.95 1)" font-size="6.4" text-anchor="end" font-weight="normal" fill="#2a2a2a" stroke="#2a2a2a" stroke-width="0.12" >26</text>
<text transform="translate(98.72 345.4) scale(0.95 1)" font-size="6.4" text-anchor="end" font-weight="normal" fill="#2a2a2a" stroke="#2a2a2a" stroke-width="0.12" >2</text>
<text transform="translate(116.3 338.2) scale(0.95 1)" font-size="6.4" text-anchor="end" font-weight="normal" fill="#2a2a2a" stroke="#2a2a2a" stroke-width="0.12" >17</text>
<text transform="translate(116.3 345.4) scale(0.95 1)" font-size="6.4" text-anchor="end" font-weight="normal" fill="#2a2a2a" stroke="#2a2a2a" stroke-width="0.12" >1</text>
<text transform="translate(133.88 338.2) scale(0.95 1)" font-size="6.4" text-anchor="end" font-weight="normal" fill="#2a2a2a" stroke="#2a2a2a" stroke-width="0.12" >10</text>
<text transform="translate(133.88 345.4) scale(0.95 1)" font-size="6.4" text-anchor="end" font-weight="normal" fill="#2a2a2a" stroke="#2a2a2a" stroke-width="0.12" >1</text>
<text transform="translate(149.77 338.2) scale(0.95 1)" font-size="6.4" text-anchor="end" font-weight="normal" fill="#2a2a2a" stroke="#2a2a2a" stroke-width="0.12" >1</text>
<text transform="translate(149.77 345.4) scale(0.95 1)" font-size="6.4" text-anchor="end" font-weight="normal" fill="#2a2a2a" stroke="#2a2a2a" stroke-width="0.12" >1</text>
<text transform="translate(167.35 338.2) scale(0.95 1)" font-size="6.4" text-anchor="end" font-weight="normal" fill="#2a2a2a" stroke="#2a2a2a" stroke-width="0.12" >0</text>
<text transform="translate(167.35 345.4) scale(0.95 1)" font-size="6.4" text-anchor="end" font-weight="normal" fill="#2a2a2a" stroke="#2a2a2a" stroke-width="0.12" >0</text>
<text transform="translate(184.8 338.2) scale(0.95 1)" font-size="6.4" text-anchor="end" font-weight="bold" fill="#111" >103</text>
<text transform="translate(184.8 345.4) scale(0.95 1)" font-size="6.4" text-anchor="end" font-weight="bold" fill="#111" >22</text>
<text x="31.6" y="320.8" font-size="6.9" text-anchor="end" font-weight="bold" fill="#111" >Number</text>
<text x="31.4" y="328.1" font-size="6.3" text-anchor="end" font-weight="bold" fill="#111" >at risk</text>
<text transform="translate(32.8 338.5) scale(0.93 1)" font-size="7" text-anchor="end" font-weight="normal" fill="#333" stroke="#333" stroke-width="0.1" >good</text>
<text transform="translate(32.8 345.6) scale(0.93 1)" font-size="7" text-anchor="end" font-weight="normal" fill="#333" stroke="#333" stroke-width="0.1" >poor</text>
<text x="181" y="201.7" font-size="11.6" text-anchor="start" font-weight="bold" fill="#111" >E</text>
<path d="M205 207.5 V303.8 H337.3" fill="none" stroke="#111" stroke-width="1.15"/>
<path d="M202 298.9H205M203.5 290.25H205M202 281.6H205M203.5 272.95H205M202 264.3H205M203.5 255.65H205M202 247H205M203.5 238.35H205M202 229.7H205M203.5 221.05H205M202 212.4H205M209.4 303.8V306.8M214.53 303.8V305.2M219.67 303.8V305.2M224.81 303.8V305.2M229.94 303.8V306.8M235.07 303.8V305.2M240.21 303.8V305.2M245.34 303.8V305.2M250.48 303.8V306.8M255.62 303.8V305.2M260.75 303.8V305.2M265.88 303.8V305.2M271.02 303.8V306.8M276.15 303.8V305.2M281.29 303.8V305.2M286.43 303.8V305.2M291.56 303.8V306.8M296.69 303.8V305.2M301.83 303.8V305.2M306.97 303.8V305.2M312.1 303.8V306.8M317.24 303.8V305.2M322.37 303.8V305.2M327.5 303.8V305.2M332.64 303.8V306.8" stroke="#111" stroke-width="1"/>
<text transform="translate(199.4 301.2) scale(0.92 1)" font-size="6.4" text-anchor="end" font-weight="normal" fill="#333" stroke="#333" stroke-width="0.1" >0</text>
<text transform="translate(199.4 283.9) scale(0.92 1)" font-size="6.4" text-anchor="end" font-weight="normal" fill="#333" stroke="#333" stroke-width="0.1" >20</text>
<text transform="translate(199.4 266.6) scale(0.92 1)" font-size="6.4" text-anchor="end" font-weight="normal" fill="#333" stroke="#333" stroke-width="0.1" >40</text>
<text transform="translate(199.4 249.3) scale(0.92 1)" font-size="6.4" text-anchor="end" font-weight="normal" fill="#333" stroke="#333" stroke-width="0.1" >60</text>
<text transform="translate(199.4 232) scale(0.92 1)" font-size="6.4" text-anchor="end" font-weight="normal" fill="#333" stroke="#333" stroke-width="0.1" >80</text>
<text transform="translate(199.4 214.7) scale(0.92 1)" font-size="6.4" text-anchor="end" font-weight="normal" fill="#333" stroke="#333" stroke-width="0.1" >100</text>
<text transform="translate(209.4 315.1) scale(0.88 1)" font-size="6.3" text-anchor="middle" font-weight="normal" fill="#333" stroke="#333" stroke-width="0.1" >0</text>
<text transform="translate(229.94 315.1) scale(0.88 1)" font-size="6.3" text-anchor="middle" font-weight="normal" fill="#333" stroke="#333" stroke-width="0.1" >2</text>
<text transform="translate(250.48 315.1) scale(0.88 1)" font-size="6.3" text-anchor="middle" font-weight="normal" fill="#333" stroke="#333" stroke-width="0.1" >4</text>
<text transform="translate(271.02 315.1) scale(0.88 1)" font-size="6.3" text-anchor="middle" font-weight="normal" fill="#333" stroke="#333" stroke-width="0.1" >6</text>
<text transform="translate(291.56 315.1) scale(0.88 1)" font-size="6.3" text-anchor="middle" font-weight="normal" fill="#333" stroke="#333" stroke-width="0.1" >8</text>
<text transform="translate(312.1 315.1) scale(0.88 1)" font-size="6.3" text-anchor="middle" font-weight="normal" fill="#333" stroke="#333" stroke-width="0.1" >10</text>
<text transform="translate(332.64 315.1) scale(0.88 1)" font-size="6.3" text-anchor="middle" font-weight="normal" fill="#333" stroke="#333" stroke-width="0.1" >12</text>
<text x="271.2" y="327.2" font-size="8.9" text-anchor="middle" font-weight="normal" fill="#333" stroke="#333" stroke-width="0.15" textLength="61" lengthAdjust="spacingAndGlyphs">Years after diagnosis</text>
<text transform="translate(345.6 310.5) rotate(-90)" font-size="6" font-weight="bold" fill="#111" text-anchor="middle">censored</text>
<path d="M209.4 212.4H231.48 V223.47H321.34" fill="none" stroke="#a32672" stroke-width="1.5"/>
<path d="M209.4 212.4H217.41 V221.92H222.24 V231.78H305.42" fill="none" stroke="#a32672" stroke-width="1.5"/>
<path d="M212.41 212.4h2.2M213.51 211.3v2.2" stroke="#861452" stroke-width="0.9"/>
<path d="M225.25 212.4h2.2M226.35 211.3v2.2" stroke="#861452" stroke-width="0.9"/>
<path d="M240.14 223.47h2.2M241.24 222.37v2.2" stroke="#861452" stroke-width="0.9"/>
<path d="M243.73 223.47h2.2M244.83 222.37v2.2" stroke="#861452" stroke-width="0.9"/>
<path d="M261.7 223.47h2.2M262.8 222.37v2.2" stroke="#861452" stroke-width="0.9"/>
<path d="M269.92 223.47h2.2M271.02 222.37v2.2" stroke="#861452" stroke-width="0.9"/>
<path d="M283.27 223.47h2.2M284.37 222.37v2.2" stroke="#861452" stroke-width="0.9"/>
<path d="M286.87 223.47h2.2M287.97 222.37v2.2" stroke="#861452" stroke-width="0.9"/>
<path d="M320.24 223.47h2.2M321.34 222.37v2.2" stroke="#861452" stroke-width="0.9"/>
<ellipse cx="208.89" cy="212.4" rx="1.8" ry="1.55" fill="#861452"/>
<ellipse cx="216.08" cy="212.4" rx="1.8" ry="1.55" fill="#861452"/>
<ellipse cx="231.48" cy="231.78" rx="1.8" ry="1.55" fill="#861452"/>
<ellipse cx="233.53" cy="231.78" rx="1.8" ry="1.55" fill="#861452"/>
<ellipse cx="236.1" cy="231.78" rx="1.8" ry="1.55" fill="#861452"/>
<ellipse cx="237.64" cy="231.78" rx="1.8" ry="1.55" fill="#861452"/>
<ellipse cx="241.24" cy="231.78" rx="1.8" ry="1.55" fill="#861452"/>
<ellipse cx="252.53" cy="231.78" rx="1.8" ry="1.55" fill="#861452"/>
<ellipse cx="290.53" cy="231.78" rx="1.8" ry="1.55" fill="#861452"/>
<ellipse cx="305.42" cy="231.78" rx="1.8" ry="1.55" fill="#861452"/>
<text x="313.8" y="237.8" font-size="5.5" text-anchor="start" font-weight="normal" fill="#333" stroke="#333" stroke-width="0.08" >p=0.4861</text>
<text transform="translate(213.08 338.2) scale(0.95 1)" font-size="6.4" text-anchor="end" font-weight="normal" fill="#2a2a2a" stroke="#2a2a2a" stroke-width="0.12" >15</text>
<text transform="translate(213.08 345.4) scale(0.95 1)" font-size="6.4" text-anchor="end" font-weight="normal" fill="#2a2a2a" stroke="#2a2a2a" stroke-width="0.12" >10</text>
<text transform="translate(231.93 338.2) scale(0.95 1)" font-size="6.4" text-anchor="end" font-weight="normal" fill="#2a2a2a" stroke="#2a2a2a" stroke-width="0.12" >8</text>
<text transform="translate(231.93 345.4) scale(0.95 1)" font-size="6.4" text-anchor="end" font-weight="normal" fill="#2a2a2a" stroke="#2a2a2a" stroke-width="0.12" >7</text>
<text transform="translate(252.47 338.2) scale(0.95 1)" font-size="6.4" text-anchor="end" font-weight="normal" fill="#2a2a2a" stroke="#2a2a2a" stroke-width="0.12" >5</text>
<text transform="translate(252.47 345.4) scale(0.95 1)" font-size="6.4" text-anchor="end" font-weight="normal" fill="#2a2a2a" stroke="#2a2a2a" stroke-width="0.12" >3</text>
<text transform="translate(273.01 338.2) scale(0.95 1)" font-size="6.4" text-anchor="end" font-weight="normal" fill="#2a2a2a" stroke="#2a2a2a" stroke-width="0.12" >4</text>
<text transform="translate(273.01 345.4) scale(0.95 1)" font-size="6.4" text-anchor="end" font-weight="normal" fill="#2a2a2a" stroke="#2a2a2a" stroke-width="0.12" >2</text>
<text transform="translate(293.55 338.2) scale(0.95 1)" font-size="6.4" text-anchor="end" font-weight="normal" fill="#2a2a2a" stroke="#2a2a2a" stroke-width="0.12" >1</text>
<text transform="translate(293.55 345.4) scale(0.95 1)" font-size="6.4" text-anchor="end" font-weight="normal" fill="#2a2a2a" stroke="#2a2a2a" stroke-width="0.12" >1</text>
<text transform="translate(314.09 338.2) scale(0.95 1)" font-size="6.4" text-anchor="end" font-weight="normal" fill="#2a2a2a" stroke="#2a2a2a" stroke-width="0.12" >1</text>
<text transform="translate(314.09 345.4) scale(0.95 1)" font-size="6.4" text-anchor="end" font-weight="normal" fill="#2a2a2a" stroke="#2a2a2a" stroke-width="0.12" >0</text>
<text transform="translate(334.63 338.2) scale(0.95 1)" font-size="6.4" text-anchor="end" font-weight="normal" fill="#2a2a2a" stroke="#2a2a2a" stroke-width="0.12" >0</text>
<text transform="translate(334.63 345.4) scale(0.95 1)" font-size="6.4" text-anchor="end" font-weight="normal" fill="#2a2a2a" stroke="#2a2a2a" stroke-width="0.12" >0</text>
<text transform="translate(347.8 338.2) scale(0.95 1)" font-size="6.4" text-anchor="end" font-weight="bold" fill="#111" >14</text>
<text transform="translate(347.8 345.4) scale(0.95 1)" font-size="6.4" text-anchor="end" font-weight="bold" fill="#111" >8</text>
<text x="343.2" y="201.7" font-size="11.6" text-anchor="start" font-weight="bold" fill="#111" >F</text>
<path d="M367 207.5 V303.8 H502.3" fill="none" stroke="#111" stroke-width="1.15"/>
<path d="M364 298.9H367M365.5 290.25H367M364 281.6H367M365.5 272.95H367M364 264.3H367M365.5 255.65H367M364 247H367M365.5 238.35H367M364 229.7H367M365.5 221.05H367M364 212.4H367M371.8 303.8V306.8M376.2 303.8V305.2M380.6 303.8V305.2M385 303.8V305.2M389.4 303.8V306.8M393.8 303.8V305.2M398.2 303.8V305.2M402.6 303.8V305.2M407 303.8V306.8M411.4 303.8V305.2M415.8 303.8V305.2M420.2 303.8V305.2M424.6 303.8V306.8M429 303.8V305.2M433.4 303.8V305.2M437.8 303.8V305.2M442.2 303.8V306.8M446.6 303.8V305.2M451 303.8V305.2M455.4 303.8V305.2M459.8 303.8V306.8M464.2 303.8V305.2M468.6 303.8V305.2M473 303.8V305.2M477.4 303.8V306.8M481.8 303.8V305.2M486.2 303.8V305.2M490.6 303.8V305.2M495 303.8V306.8M499.4 303.8V305.2" stroke="#111" stroke-width="1"/>
<text transform="translate(361.4 301.2) scale(0.92 1)" font-size="6.4" text-anchor="end" font-weight="normal" fill="#333" stroke="#333" stroke-width="0.1" >0</text>
<text transform="translate(361.4 283.9) scale(0.92 1)" font-size="6.4" text-anchor="end" font-weight="normal" fill="#333" stroke="#333" stroke-width="0.1" >20</text>
<text transform="translate(361.4 266.6) scale(0.92 1)" font-size="6.4" text-anchor="end" font-weight="normal" fill="#333" stroke="#333" stroke-width="0.1" >40</text>
<text transform="translate(361.4 249.3) scale(0.92 1)" font-size="6.4" text-anchor="end" font-weight="normal" fill="#333" stroke="#333" stroke-width="0.1" >60</text>
<text transform="translate(361.4 232) scale(0.92 1)" font-size="6.4" text-anchor="end" font-weight="normal" fill="#333" stroke="#333" stroke-width="0.1" >80</text>
<text transform="translate(361.4 214.7) scale(0.92 1)" font-size="6.4" text-anchor="end" font-weight="normal" fill="#333" stroke="#333" stroke-width="0.1" >100</text>
<text transform="translate(371.8 315.1) scale(0.88 1)" font-size="6.3" text-anchor="middle" font-weight="normal" fill="#333" stroke="#333" stroke-width="0.1" >0</text>
<text transform="translate(389.4 315.1) scale(0.88 1)" font-size="6.3" text-anchor="middle" font-weight="normal" fill="#333" stroke="#333" stroke-width="0.1" >2</text>
<text transform="translate(407 315.1) scale(0.88 1)" font-size="6.3" text-anchor="middle" font-weight="normal" fill="#333" stroke="#333" stroke-width="0.1" >4</text>
<text transform="translate(424.6 315.1) scale(0.88 1)" font-size="6.3" text-anchor="middle" font-weight="normal" fill="#333" stroke="#333" stroke-width="0.1" >6</text>
<text transform="translate(442.2 315.1) scale(0.88 1)" font-size="6.3" text-anchor="middle" font-weight="normal" fill="#333" stroke="#333" stroke-width="0.1" >8</text>
<text transform="translate(459.8 315.1) scale(0.88 1)" font-size="6.3" text-anchor="middle" font-weight="normal" fill="#333" stroke="#333" stroke-width="0.1" >10</text>
<text transform="translate(477.4 315.1) scale(0.88 1)" font-size="6.3" text-anchor="middle" font-weight="normal" fill="#333" stroke="#333" stroke-width="0.1" >12</text>
<text transform="translate(495 315.1) scale(0.88 1)" font-size="6.3" text-anchor="middle" font-weight="normal" fill="#333" stroke="#333" stroke-width="0.1" >14</text>
<text x="434.8" y="327.2" font-size="8.9" text-anchor="middle" font-weight="normal" fill="#333" stroke="#333" stroke-width="0.15" textLength="61" lengthAdjust="spacingAndGlyphs">Years after diagnosis</text>
<text transform="translate(510.3 310.5) rotate(-90)" font-size="6" font-weight="bold" fill="#111" text-anchor="middle">censored</text>
<path d="M371.8 212.4H371.8 V218.63H375.76 V221.48H378.4 V225.38H380.6 V229.27H383.24 V232.73H386.32 V236.62H388.52 V240.25H408.76 V246.13H427.24 V251.32H464.64" fill="none" stroke="#a4213f" stroke-width="1.5"/>
<path d="M371.8 212.4H371.8 V218.63H382.8 V225.81H386.32 V232.73H388.96 V240.08H392.04 V250.63H482.68" fill="none" stroke="#a4213f" stroke-width="1.5"/>
<path d="M393.58 240.25h2.2M394.68 239.15v2.2" stroke="#7e1030" stroke-width="0.9"/>
<path d="M397.1 240.25h2.2M398.2 239.15v2.2" stroke="#7e1030" stroke-width="0.9"/>
<path d="M401.5 240.25h2.2M402.6 239.15v2.2" stroke="#7e1030" stroke-width="0.9"/>
<path d="M414.7 246.13h2.2M415.8 245.03v2.2" stroke="#7e1030" stroke-width="0.9"/>
<path d="M417.34 246.13h2.2M418.44 245.03v2.2" stroke="#7e1030" stroke-width="0.9"/>
<path d="M428.78 251.32h2.2M429.88 250.22v2.2" stroke="#7e1030" stroke-width="0.9"/>
<path d="M432.3 251.32h2.2M433.4 250.22v2.2" stroke="#7e1030" stroke-width="0.9"/>
<path d="M435.82 251.32h2.2M436.92 250.22v2.2" stroke="#7e1030" stroke-width="0.9"/>
<path d="M441.98 251.32h2.2M443.08 250.22v2.2" stroke="#7e1030" stroke-width="0.9"/>
<path d="M447.26 251.32h2.2M448.36 250.22v2.2" stroke="#7e1030" stroke-width="0.9"/>
<path d="M450.78 251.32h2.2M451.88 250.22v2.2" stroke="#7e1030" stroke-width="0.9"/>
<path d="M456.06 251.32h2.2M457.16 250.22v2.2" stroke="#7e1030" stroke-width="0.9"/>
<path d="M459.58 251.32h2.2M460.68 250.22v2.2" stroke="#7e1030" stroke-width="0.9"/>
<path d="M463.54 251.32h2.2M464.64 250.22v2.2" stroke="#7e1030" stroke-width="0.9"/>
<ellipse cx="371.62" cy="212.4" rx="1.8" ry="1.55" fill="#7e1030"/>
<ellipse cx="374.44" cy="218.63" rx="1.8" ry="1.55" fill="#7e1030"/>
<ellipse cx="377.08" cy="218.63" rx="1.8" ry="1.55" fill="#7e1030"/>
<ellipse cx="385.88" cy="225.81" rx="1.8" ry="1.55" fill="#7e1030"/>
<ellipse cx="395.56" cy="250.63" rx="1.8" ry="1.55" fill="#7e1030"/>
<ellipse cx="401.72" cy="250.63" rx="1.8" ry="1.55" fill="#7e1030"/>
<ellipse cx="423.72" cy="250.63" rx="1.8" ry="1.55" fill="#7e1030"/>
<ellipse cx="443.08" cy="250.63" rx="1.8" ry="1.55" fill="#7e1030"/>
<ellipse cx="472.56" cy="250.63" rx="1.8" ry="1.55" fill="#7e1030"/>
<ellipse cx="482.68" cy="250.63" rx="1.8" ry="1.55" fill="#7e1030"/>
<text x="471.8" y="262.6" font-size="5.5" text-anchor="start" font-weight="normal" fill="#333" stroke="#333" stroke-width="0.08" >p=0.9380</text>
<text transform="translate(375.48 338.2) scale(0.95 1)" font-size="6.4" text-anchor="end" font-weight="normal" fill="#2a2a2a" stroke="#2a2a2a" stroke-width="0.12" >43</text>
<text transform="translate(375.48 345.4) scale(0.95 1)" font-size="6.4" text-anchor="end" font-weight="normal" fill="#2a2a2a" stroke="#2a2a2a" stroke-width="0.12" >17</text>
<text transform="translate(393.08 338.2) scale(0.95 1)" font-size="6.4" text-anchor="end" font-weight="normal" fill="#2a2a2a" stroke="#2a2a2a" stroke-width="0.12" >19</text>
<text transform="translate(393.08 345.4) scale(0.95 1)" font-size="6.4" text-anchor="end" font-weight="normal" fill="#2a2a2a" stroke="#2a2a2a" stroke-width="0.12" >7</text>
<text transform="translate(410.68 338.2) scale(0.95 1)" font-size="6.4" text-anchor="end" font-weight="normal" fill="#2a2a2a" stroke="#2a2a2a" stroke-width="0.12" >12</text>
<text transform="translate(410.68 345.4) scale(0.95 1)" font-size="6.4" text-anchor="end" font-weight="normal" fill="#2a2a2a" stroke="#2a2a2a" stroke-width="0.12" >4</text>
<text transform="translate(426.59 338.2) scale(0.95 1)" font-size="6.4" text-anchor="end" font-weight="normal" fill="#2a2a2a" stroke="#2a2a2a" stroke-width="0.12" >8</text>
<text transform="translate(426.59 345.4) scale(0.95 1)" font-size="6.4" text-anchor="end" font-weight="normal" fill="#2a2a2a" stroke="#2a2a2a" stroke-width="0.12" >3</text>
<text transform="translate(444.19 338.2) scale(0.95 1)" font-size="6.4" text-anchor="end" font-weight="normal" fill="#2a2a2a" stroke="#2a2a2a" stroke-width="0.12" >5</text>
<text transform="translate(444.19 345.4) scale(0.95 1)" font-size="6.4" text-anchor="end" font-weight="normal" fill="#2a2a2a" stroke="#2a2a2a" stroke-width="0.12" >3</text>
<text transform="translate(461.79 338.2) scale(0.95 1)" font-size="6.4" text-anchor="end" font-weight="normal" fill="#2a2a2a" stroke="#2a2a2a" stroke-width="0.12" >2</text>
<text transform="translate(461.79 345.4) scale(0.95 1)" font-size="6.4" text-anchor="end" font-weight="normal" fill="#2a2a2a" stroke="#2a2a2a" stroke-width="0.12" >2</text>
<text transform="translate(479.39 338.2) scale(0.95 1)" font-size="6.4" text-anchor="end" font-weight="normal" fill="#2a2a2a" stroke="#2a2a2a" stroke-width="0.12" >0</text>
<text transform="translate(479.39 345.4) scale(0.95 1)" font-size="6.4" text-anchor="end" font-weight="normal" fill="#2a2a2a" stroke="#2a2a2a" stroke-width="0.12" >1</text>
<text transform="translate(496.99 338.2) scale(0.95 1)" font-size="6.4" text-anchor="end" font-weight="normal" fill="#2a2a2a" stroke="#2a2a2a" stroke-width="0.12" >0</text>
<text transform="translate(496.99 345.4) scale(0.95 1)" font-size="6.4" text-anchor="end" font-weight="normal" fill="#2a2a2a" stroke="#2a2a2a" stroke-width="0.12" >0</text>
<text transform="translate(512.4 338.2) scale(0.95 1)" font-size="6.4" text-anchor="end" font-weight="bold" fill="#111" >31</text>
<text transform="translate(512.4 345.4) scale(0.95 1)" font-size="6.4" text-anchor="end" font-weight="bold" fill="#111" >12</text>
<text transform="translate(15.6 94.4) rotate(-90)" font-size="8" fill="#333" stroke="#333" stroke-width="0.15" text-anchor="middle" textLength="63.5" lengthAdjust="spacingAndGlyphs">Event-free survival (%)</text>
<text transform="translate(15.6 255.6) rotate(-90)" font-size="8" fill="#333" stroke="#333" stroke-width="0.15" text-anchor="middle" textLength="55.5" lengthAdjust="spacingAndGlyphs">Overall survival (%)</text>
</svg>
<div class="frame"></div>
</body></html>
